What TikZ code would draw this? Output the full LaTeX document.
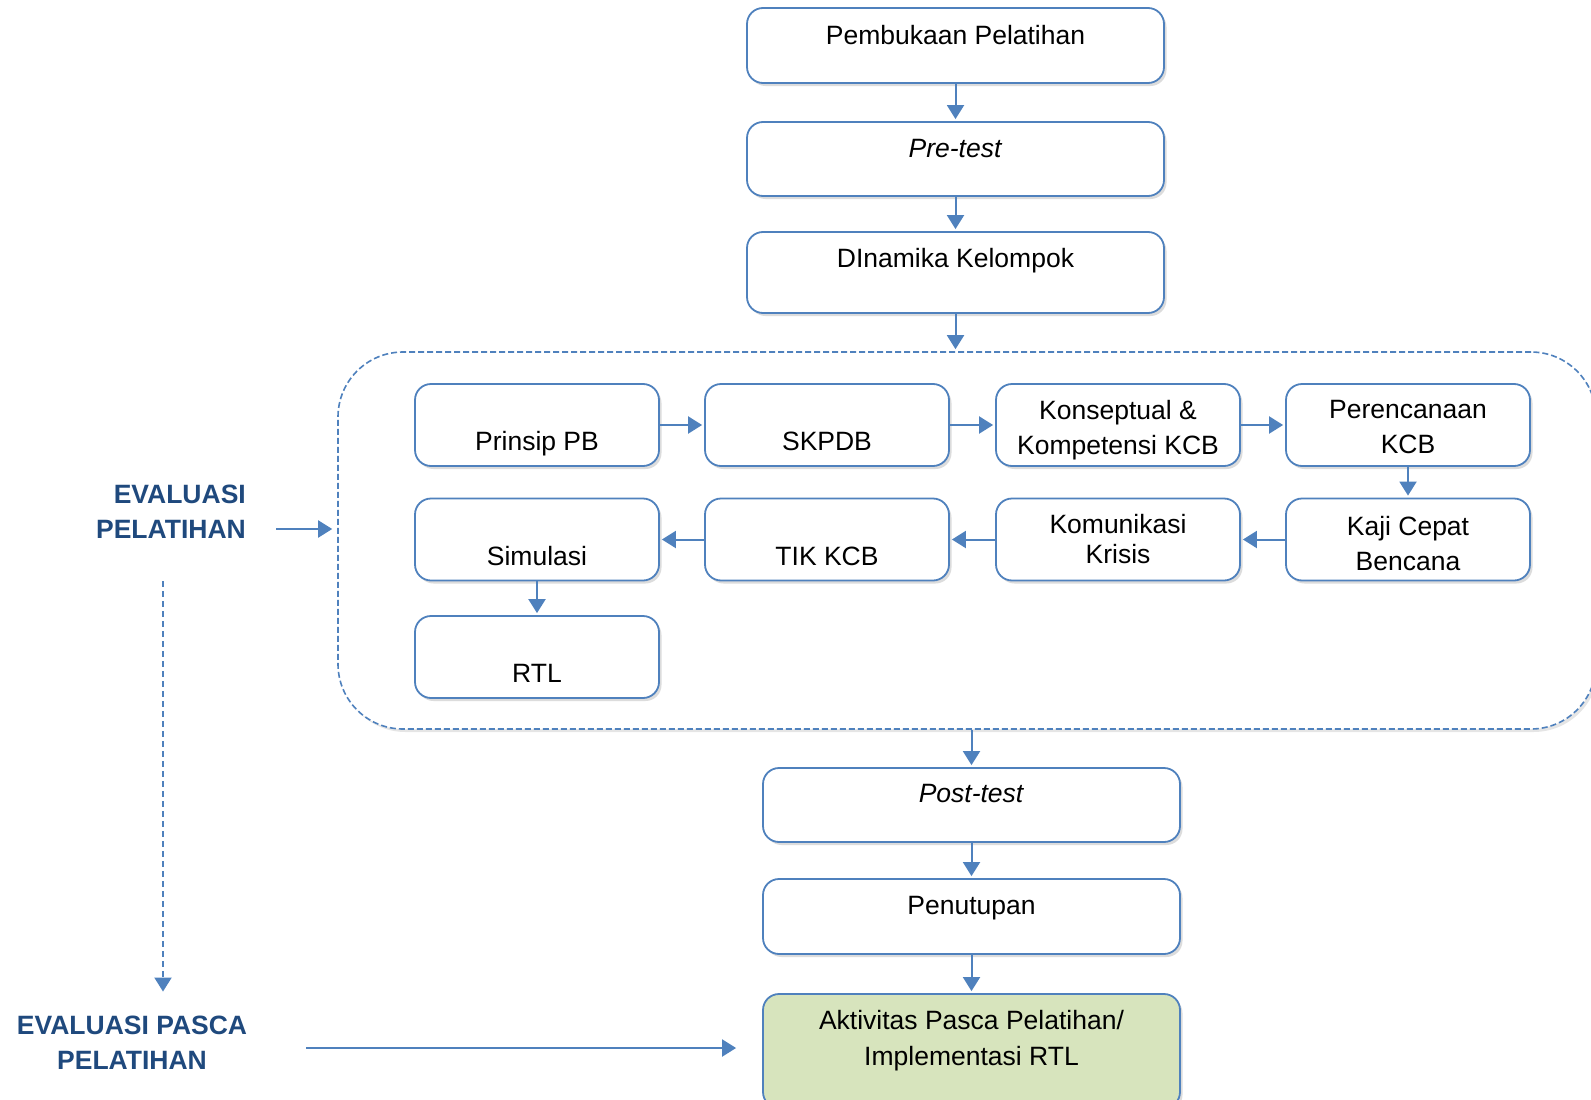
\documentclass[tikz,border=0pt]{standalone}
\usepackage{fontspec}
\setmainfont{Liberation Sans}
\usetikzlibrary{arrows, arrows.meta}
\usetikzlibrary{shadows}

\definecolor{boxline}{HTML}{4F81BD}
\definecolor{evaltext}{HTML}{1F497D}
\definecolor{greenfill}{HTML}{D7E4BD}

\newcommand{\padtop}[1]{\rule{0pt}{#1}}

\tikzset{
    basebox/.style = {draw=boxline, line width=1.8pt, rounded corners=16pt, fill=white, inner sep=0pt, align=center,
        font=\fontsize{26.5}{35.5}\selectfont,
        drop shadow={shadow xshift=2.5pt, shadow yshift=-3pt, opacity=0.3, fill=black!45}},
    topbox/.style = {basebox, minimum width=417pt},
    inbox/.style = {basebox, minimum width=244pt, minimum height=82pt},
    hightext/.style = {text height=20pt, text depth=23pt},
    lowtext/.style = {text height=54pt, text depth=3pt},
    corebox/.style = {draw=boxline, line width=1.6pt, dash pattern=on 6pt off 3pt, rounded corners=65pt,
        minimum width=1258pt, minimum height=377pt, inner sep=0pt,
        drop shadow={shadow xshift=2.5pt, shadow yshift=-3pt, opacity=0.25, fill=black!40}, fill=white},
    evallabel/.style = {font=\fontsize{26.5}{35}\selectfont\bfseries, text=evaltext, inner sep=0pt},
    link/.style = {draw=boxline, line width=2pt, -{Triangle[length=14pt, width=17pt]}, shorten >=2pt},
    dashlink/.style = {link, dash pattern=on 6pt off 4pt}
}

\begin{document}
\begin{tikzpicture}[x=1pt, y=-1pt]
    \useasboundingbox (0,0) rectangle (1591,1100);
    \clip (0,0) rectangle (1591,1100);

    \node[corebox] (core) at (967,540.5) {};

    \node[topbox, hightext, minimum height=75pt] (open) at (955.5,45.5) {Pembukaan Pelatihan};
    \node[topbox, hightext, minimum height=74pt] (pre) at (955.5,159) {\textit{Pre-test}};
    \node[topbox, text height=18pt, text depth=29pt, minimum height=81pt] (dyn) at (955.5,272.5) {DInamika Kelompok};

    \node[inbox, lowtext] (prinsip) at (537,425) {Prinsip PB};
    \node[inbox, lowtext] (skpdb) at (827,425) {SKPDB};
    \node[inbox] (konsep) at (1118,425) {\padtop{29pt}Konseptual \&\\Kompetensi KCB};
    \node[inbox] (rencana) at (1408,425) {\padtop{22pt}Perencanaan\\KCB};
    \node[inbox] (kaji) at (1408,539.5) {\padtop{27pt}Kaji Cepat\\Bencana};
    \node[inbox, font=\fontsize{26.5}{30}\selectfont] (komunikasi) at (1118,539.5) {Komunikasi\\Krisis};
    \node[inbox, lowtext] (tik) at (827,539.5) {TIK KCB};
    \node[inbox, lowtext] (simulasi) at (537,539.5) {Simulasi};
    \node[inbox, lowtext] (rtl) at (537,657) {RTL};

    \node[topbox, text height=19pt, text depth=24pt, minimum height=74pt] (post) at (971.5,805) {\textit{Post-test}};
    \node[topbox, text height=19pt, text depth=24pt, minimum height=75pt] (close) at (971.5,916.5) {Penutupan};
    \node[topbox, fill=greenfill, minimum height=114pt,
        label={[yshift=10.5pt, align=center, font=\fontsize{26.5}{35.5}\selectfont]center:{Aktivitas Pasca Pelatihan/\\Implementasi RTL}}]
        (after) at (971.5,1051) {};

    \node[evallabel, align=right, anchor=east] (evalA) at (246,511.5) {EVALUASI\\PELATIHAN};
    \node[evallabel, align=center] (evalB) at (132,1042.5) {EVALUASI PASCA\\PELATIHAN};

    \draw[link] (open) -- (pre);
    \draw[link] (pre) -- (dyn);
    \draw[link] (dyn.south) -- (dyn.south |- core.north);
    \draw[link] (prinsip) -- (skpdb);
    \draw[link] (skpdb) -- (konsep);
    \draw[link] (konsep) -- (rencana);
    \draw[link] (rencana) -- (kaji);
    \draw[link] (kaji) -- (komunikasi);
    \draw[link] (komunikasi) -- (tik);
    \draw[link] (tik) -- (simulasi);
    \draw[link] (simulasi) -- (rtl);
    \draw[link] (core.south -| post.north) -- (post.north);
    \draw[link] (post) -- (close);
    \draw[link] (close) -- (after);

    \coordinate (evalA out) at (276,529);
    \coordinate (dash top) at (163,581);
    \coordinate (evalB out) at (306,1048);
    \draw[link, shorten >=5pt] (evalA out) -- (evalA out -| core.west);
    \draw[dashlink, shorten >=24pt] (dash top) -- (dash top |- evalB.north);
    \draw[link, shorten >=26pt] (evalB out) -- (evalB out -| after.west);
\end{tikzpicture}
\end{document}
